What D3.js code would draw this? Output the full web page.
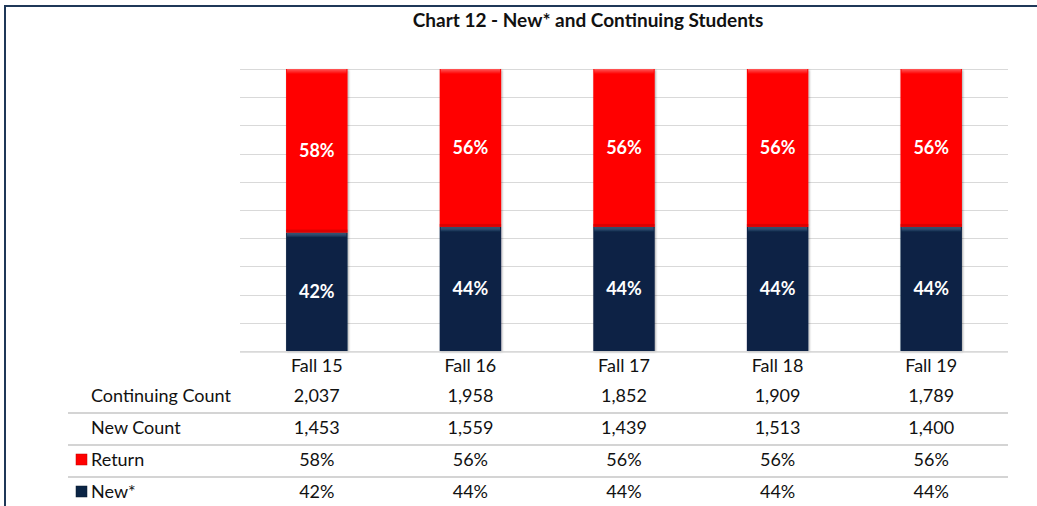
<!doctype html>
<html lang='en'>
<head>
  <meta charset='utf-8'>
  <title>Chart 12 - New* and Continuing Students</title>
  <style>
    html, body { margin: 0; padding: 0; background: #fff; }
    svg { display: block; font-family: Lato, 'Open Sans', sans-serif; }
    .grid line { stroke: #d9d9d9; stroke-width: 1; }
    .rowline { stroke: #d4d4d4; stroke-width: 2; }
    .cell { font-size: 18px; fill: #111; }
  </style>
</head>
<body>
  <script src='https://d3js.org/d3.v7.min.js'></script>
  <script>
    const categories = ['Fall 15', 'Fall 16', 'Fall 17', 'Fall 18', 'Fall 19']
    const returnPct = [58, 56, 56, 56, 56]
    const newPct = [42, 44, 44, 44, 44]
    const continuingCount = [2037, 1958, 1852, 1909, 1789]
    const newCount = [1453, 1559, 1439, 1513, 1400]
    const gridTicks = [0, 10, 20, 30, 40, 50, 60, 70, 80, 90, 100]

    const width = 1037
    const height = 506

    const svg = d3.select('body').append('svg')
      .attr('width', width)
      .attr('height', height)

    const defs = svg.append('defs')

    const shadow = defs.append('filter').attr('id', 'shadow')
      .attr('x', '-20%').attr('y', '-5%').attr('width', '140%').attr('height', '110%')
    shadow.append('feDropShadow')
      .attr('dx', 1).attr('dy', 1).attr('stdDeviation', 1.2)
      .attr('flood-color', '#000').attr('flood-opacity', 0.35)

    const redTop = defs.append('linearGradient').attr('id', 'redTop')
      .attr('x1', 0).attr('y1', 0).attr('x2', 0).attr('y2', 1)
    redTop.append('stop').attr('offset', '0%').attr('stop-color', '#ff5a5a')
    redTop.append('stop').attr('offset', '100%').attr('stop-color', '#ff0000')

    const navyTop = defs.append('linearGradient').attr('id', 'navyTop')
      .attr('x1', 0).attr('y1', 0).attr('x2', 0).attr('y2', 1)
    navyTop.append('stop').attr('offset', '0%').attr('stop-color', '#4d6f96')
    navyTop.append('stop').attr('offset', '100%').attr('stop-color', '#0b2445')

    // frame
    svg.append('path')
      .attr('d', 'M5,' + (height + 5) + ' L5,6 L' + (width + 5) + ',6')
      .attr('fill', 'none')
      .attr('stroke', '#1f3858')
      .attr('stroke-width', 2)

    svg.append('text')
      .attr('x', 588)
      .attr('y', 27)
      .attr('text-anchor', 'middle')
      .style('font-size', '19px')
      .style('font-weight', 'bold')
      .style('fill', '#111')
      .text('Chart 12 - New* and Continuing Students')

    const x = d3.scaleBand()
      .domain(categories)
      .range([240, 1008])
      .paddingInner(0.6)
      .paddingOuter(0.3)

    const y = d3.scaleLinear()
      .domain([0, 100])
      .range([351, 69])

    svg.append('g')
      .attr('class', 'grid')
      .selectAll('line')
      .data(gridTicks)
      .join('line')
      .attr('x1', 240)
      .attr('x2', 1008)
      .attr('y1', d => Math.round(y(d)) + 0.5)
      .attr('y2', d => Math.round(y(d)) + 0.5)

    const data = categories.map((c, i) => ({ cat: c, ret: returnPct[i], nw: newPct[i] }))

    const bars = svg.append('g')
      .selectAll('g')
      .data(data)
      .join('g')

    // new* segment (bottom)
    bars.append('rect')
      .attr('x', d => x(d.cat))
      .attr('width', x.bandwidth())
      .attr('y', d => y(d.nw))
      .attr('height', d => y(0) - y(d.nw))
      .attr('fill', '#0b2445')
      .attr('filter', 'url(#shadow)')

    bars.append('rect')
      .attr('x', d => x(d.cat) + 1)
      .attr('width', x.bandwidth() - 2)
      .attr('y', d => y(d.nw))
      .attr('height', 5)
      .attr('fill', 'url(#navyTop)')

    // return segment (top)
    bars.append('rect')
      .attr('x', d => x(d.cat))
      .attr('width', x.bandwidth())
      .attr('y', d => y(d.nw + d.ret))
      .attr('height', d => y(d.nw) - y(d.nw + d.ret))
      .attr('fill', '#ff0000')
      .attr('filter', 'url(#shadow)')

    bars.append('rect')
      .attr('x', d => x(d.cat) + 1)
      .attr('width', x.bandwidth() - 2)
      .attr('y', d => y(d.nw + d.ret))
      .attr('height', 5)
      .attr('fill', 'url(#redTop)')

    bars.append('rect')
      .attr('x', d => x(d.cat))
      .attr('width', x.bandwidth())
      .attr('y', d => y(d.nw) - 3)
      .attr('height', 3)
      .attr('fill', '#c80000')
      .attr('opacity', 0.6)

    bars.append('text')
      .attr('x', d => x(d.cat) + x.bandwidth() / 2)
      .attr('y', d => (y(d.nw) + y(d.nw + d.ret)) / 2 + 6)
      .attr('text-anchor', 'middle')
      .style('font-size', '18px')
      .style('font-weight', 'bold')
      .style('fill', '#fff')
      .text(d => d.ret + '%')

    bars.append('text')
      .attr('x', d => x(d.cat) + x.bandwidth() / 2)
      .attr('y', d => (y(0) + y(d.nw)) / 2 + 6)
      .attr('text-anchor', 'middle')
      .style('font-size', '18px')
      .style('font-weight', 'bold')
      .style('fill', '#fff')
      .text(d => d.nw + '%')

    // axis line
    svg.append('line')
      .attr('x1', 240).attr('x2', 1008)
      .attr('y1', 352).attr('y2', 352)
      .attr('stroke', '#d9d9d9').attr('stroke-width', 1.5)

    // data table
    const cx = d => x(d) + x.bandwidth() / 2
    const fmt = d3.format(',')

    svg.append('g').selectAll('text')
      .data(categories)
      .join('text')
      .attr('class', 'cell')
      .attr('x', cx)
      .attr('y', 372)
      .attr('text-anchor', 'middle')
      .text(d => d)

    const rows = [
      { label: 'Continuing Count', values: continuingCount.map(fmt), y: 402, key: null },
      { label: 'New Count', values: newCount.map(fmt), y: 434, key: null },
      { label: 'Return', values: returnPct.map(v => v + '%'), y: 466, key: '#ff0000' },
      { label: 'New*', values: newPct.map(v => v + '%'), y: 498, key: '#0b2445' }
    ]

    const rowLines = [413, 445, 477]
    svg.append('g').selectAll('line')
      .data(rowLines)
      .join('line')
      .attr('class', 'rowline')
      .attr('x1', 68).attr('x2', 1008)
      .attr('y1', d => d).attr('y2', d => d)

    rows.forEach(r => {
      svg.append('text')
        .attr('class', 'cell')
        .attr('x', 91)
        .attr('y', r.y)
        .text(r.label)

      if (r.key) {
        svg.append('rect')
          .attr('x', 76).attr('y', r.y - 12)
          .attr('width', 11).attr('height', 11)
          .attr('fill', r.key)
          .attr('stroke', r.key === '#ff0000' ? '#c00000' : '#08182e')
          .attr('stroke-width', 0.5)
      }

      svg.append('g').selectAll('text')
        .data(categories.map((c, i) => ({ c, v: r.values[i] })))
        .join('text')
        .attr('class', 'cell')
        .attr('x', d => cx(d.c))
        .attr('y', r.y)
        .attr('text-anchor', 'middle')
        .text(d => d.v)
    })
  </script>
</body>
</html>
